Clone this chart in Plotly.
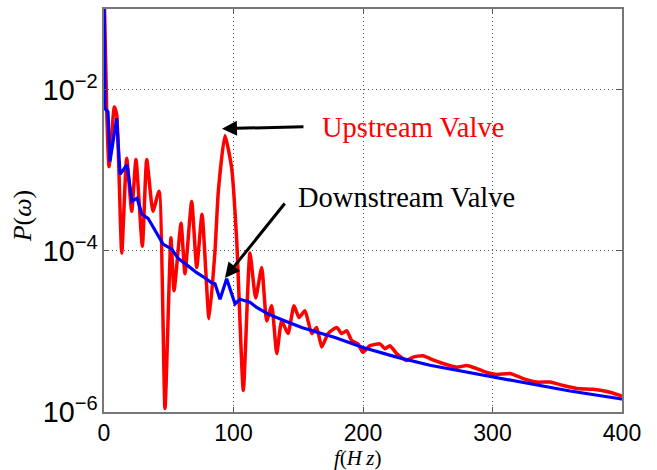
import plotly.graph_objects as go

# Upstream valve spectrum (red)
f_up = [0, 2.1, 3.9, 8.0, 9.8, 13.7, 17.5, 21.4, 24.7, 29.6, 33.0, 37.8, 42.5, 47.1,
        51.7, 54.1, 59.5, 62.5, 67.7, 71.6, 75.7, 81.1, 85.7, 88.3, 93.4, 98.6, 102.5,
        107.6, 112.7, 117.1, 121.8, 125.6, 129.5, 133.4, 137.2, 142.1, 146.7, 150.6,
        155.2, 160.4, 164.2, 168.1, 173.0, 179.7, 183.6, 187.4, 191.3, 196.1, 200,
        205.4, 213.1, 217, 220.8, 226, 233.7, 238.6, 246.3, 251.7, 261.8, 272.4, 280.1,
        287.8, 295.5, 303.2, 313.5, 323.6, 334.1, 344.4, 354.4, 365, 377.6, 388.2,
        398.5, 400]
p_up = [0.2, 5.3e-3, 1.11e-3, 6.1e-3, 4.9e-3, 9.4e-5, 1.41e-3, 3.1e-4, 1.36e-3, 1.14e-4,
        1.36e-3, 3.1e-4, 5.5e-4, 1.11e-6, 1.45e-4, 3.2e-5, 2.2e-4, 5.2e-5, 4.1e-4,
        6.2e-5, 2.84e-4, 1.44e-5, 9.9e-5, 5.5e-4, 2.7e-3, 1.06e-3, 1.32e-4, 1.85e-6,
        9.4e-5, 2.6e-5, 6.2e-5, 1.35e-5, 2.08e-5, 5.3e-6, 1.35e-5, 9.4e-6, 2.08e-5,
        1.49e-5, 1.80e-5, 9.4e-6, 1.12e-5, 6.4e-6, 9.4e-6, 1.12e-5, 9.4e-6, 1.02e-5,
        7.7e-6, 7.0e-6, 5.5e-6, 6.65e-6, 7.0e-6, 6.1e-6, 6.65e-6, 5.3e-6, 4.35e-6,
        4.8e-6, 5.0e-6, 4.6e-6, 4.0e-6, 3.6e-6, 3.77e-6, 3.46e-6, 3.09e-6, 2.92e-6,
        3.0e-6, 2.6e-6, 2.35e-6, 2.35e-6, 2.14e-6, 1.96e-6, 1.91e-6, 1.80e-6, 1.61e-6,
        1.58e-6]

# Downstream valve spectrum (blue)
f_down = [0, 0.8, 3.1, 4.6, 9.8, 12.4, 17.8, 21.6, 25.5, 29.3, 34.0, 40.7, 45.6, 52.3,
          57.1, 64.9, 71.6, 78.0, 83.2, 85.7, 89.6, 94.7, 101.2, 105.0, 112.7, 117.9,
          126.6, 139.8, 152.7, 165.3, 178.4, 200, 226, 251.7, 290.3, 300.4, 334.1,
          359.8, 398.5, 400]
p_down = [0.2, 5.8e-3, 5.3e-3, 1.28e-3, 4.4e-3, 8.9e-4, 1.17e-3, 4.1e-4, 4.5e-4, 2.84e-4,
          2.53e-4, 1.67e-4, 1.21e-4, 1.05e-4, 8.1e-5, 6.5e-5, 5.35e-5, 4.6e-5, 4.0e-5,
          3.9e-5, 2.5e-5, 4.5e-5, 2.2e-5, 2.5e-5, 2.3e-5, 1.98e-5, 1.65e-5, 1.35e-5,
          1.12e-5, 9.7e-6, 8.4e-6, 6.3e-6, 4.8e-6, 3.8e-6, 2.9e-6, 2.7e-6, 2.14e-6,
          1.82e-6, 1.46e-6, 1.44e-6]

x_ticks = [0, 100, 200, 300, 400]

fig = go.Figure()
fig.add_trace(go.Scatter(x=f_up, y=p_up, mode="lines",
                         line=dict(color="#ff0000", width=3.5, shape="spline", smoothing=0.5),
                         showlegend=False))
fig.add_trace(go.Scatter(x=f_down, y=p_down, mode="lines",
                         line=dict(color="#0000ff", width=3.2),
                         showlegend=False))

tick_font = dict(family="Arial, Liberation Sans, sans-serif", size=23, color="black")
serif = "Liberation Serif, Times New Roman, serif"
grid_style = dict(showgrid=True, gridcolor="#555", griddash="1px,3px", gridwidth=1.2)

fig.update_layout(
    width=657, height=470,
    margin=dict(l=104, r=35, t=7, b=58),
    paper_bgcolor="white", plot_bgcolor="white",
    xaxis=dict(range=[0, 400], tickvals=x_ticks, ticks="inside", ticklen=5,
               tickcolor="#555", showline=True, linecolor="#777", linewidth=1.5,
               mirror="ticks", zeroline=False, tickfont=tick_font, **grid_style),
    yaxis=dict(type="log", range=[-6, -1], dtick=2, exponentformat="power",
               showexponent="all", ticks="inside", ticklen=5, tickcolor="#555",
               showline=True, linecolor="#777", linewidth=1.5, mirror="ticks",
               zeroline=False, tickfont=tick_font, **grid_style),
)

annotations = [
    # arrows
    dict(x=91.1, y=-2.485, xref="x", yref="y", text="", showarrow=True,
         ax=83, ay=-2, arrowhead=2, arrowsize=1, arrowwidth=3, arrowcolor="black"),
    dict(x=93.4, y=-4.337, xref="x", yref="y", text="", showarrow=True,
         ax=61, ay=-76, arrowhead=2, arrowsize=1, arrowwidth=3, arrowcolor="black"),
    # labels
    dict(x=166.8, y=-2.473, xref="x", yref="y", text="Upstream Valve", showarrow=False,
         xanchor="left", yanchor="middle", font=dict(family=serif, size=28.5, color="#ff0000")),
    dict(x=148.3, y=-3.337, xref="x", yref="y", text="Downstream Valve", showarrow=False,
         xanchor="left", yanchor="middle", font=dict(family=serif, size=28.5, color="black")),
    # axis titles
    dict(x=0.49, y=-0.1136, xref="paper", yref="paper", text="<i>f</i>(<i>H\u2009z</i>)",
         showarrow=False, xanchor="center", yanchor="middle",
         font=dict(family=serif, size=21, color="black")),
    dict(x=-0.158, y=0.486, xref="paper", yref="paper", text="<i>P</i>(<i>ω</i>)",
         showarrow=False, textangle=-90, xanchor="center", yanchor="middle",
         font=dict(family=serif, size=26, color="black")),
]
fig.update_layout(annotations=annotations)

fig.write_html("out.html")
